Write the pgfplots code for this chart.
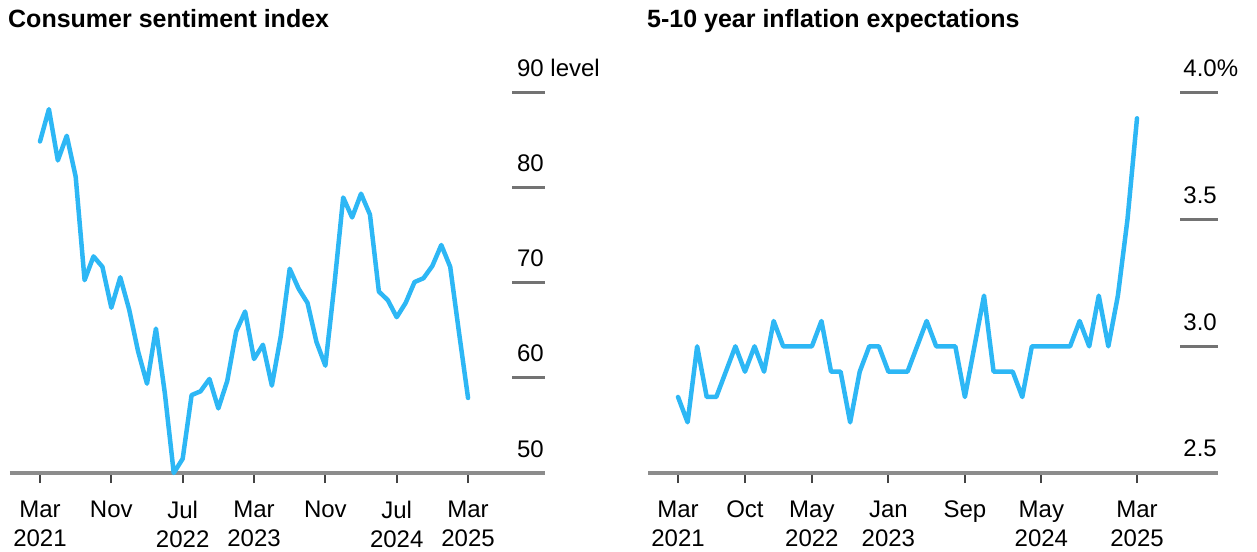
\documentclass[border=0pt]{standalone}
\usepackage{pgfplots}
\pgfplotsset{compat=1.18}
\usepackage{pgfplotstable}
\usepackage{fontspec}
\setmainfont{Liberation Sans}
\definecolor{linec}{HTML}{2DB7F5}
\definecolor{axisgray}{HTML}{8C8C8C}
\definecolor{tickc}{HTML}{444444}
\definecolor{gridc}{HTML}{737373}

\pgfplotstableread{
idx val
0 84.9
1 88.3
2 82.9
3 85.5
4 81.2
5 70.3
6 72.8
7 71.7
8 67.4
9 70.6
10 67.2
11 62.8
12 59.4
13 65.2
14 58.4
15 50.0
16 51.5
17 58.2
18 58.6
19 59.9
20 56.8
21 59.7
22 64.9
23 67.0
24 62.0
25 63.5
26 59.2
27 64.4
28 71.5
29 69.4
30 67.9
31 63.8
32 61.3
33 69.7
34 79.0
35 76.9
36 79.4
37 77.2
38 69.1
39 68.2
40 66.4
41 67.9
42 70.1
43 70.5
44 71.8
45 74.0
46 71.7
47 64.7
48 57.9
}\sentiment

\pgfplotstableread{
idx val
0 2.8
1 2.7
2 3.0
3 2.8
4 2.8
5 2.9
6 3.0
7 2.9
8 3.0
9 2.9
10 3.1
11 3.0
12 3.0
13 3.0
14 3.0
15 3.1
16 2.9
17 2.9
18 2.7
19 2.9
20 3.0
21 3.0
22 2.9
23 2.9
24 2.9
25 3.0
26 3.1
27 3.0
28 3.0
29 3.0
30 2.8
31 3.0
32 3.2
33 2.9
34 2.9
35 2.9
36 2.8
37 3.0
38 3.0
39 3.0
40 3.0
41 3.0
42 3.1
43 3.0
44 3.2
45 3.0
46 3.2
47 3.5
48 3.9
}\inflation

\begin{document}
\begin{tikzpicture}[x=1pt,y=1pt]
\useasboundingbox (0,0) rectangle (1257,551);
\pgfplotsset{
  panel/.style={
    scale only axis, clip=false,
    axis x line*=bottom, axis y line*=right,
    y axis line style={draw=none},
    x axis line style={draw=axisgray, line width=3.5pt},
    xtick style={draw=tickc, line width=2pt},
    ytick style={draw=none},
    tick align=outside, major tick length=10pt,
    minor tick num=0,
    tick label style={font=\fontsize{24}{29}\selectfont, text=black},
    xticklabel style={align=center, anchor=north, inner sep=0pt, yshift=-18pt},
    yticklabel style={anchor=base east, inner sep=0pt, xshift=-11pt, yshift=16pt},
    height=380pt,
  }
}
% Left panel
\node[anchor=base west, font=\bfseries\fontsize{25}{30}\selectfont, inner sep=0pt] at (8,523) {Consumer sentiment index};
\begin{axis}[panel,
  at={(10pt,78pt)}, anchor=south west,
  width=535pt,
  xmin=-3.364, xmax=56.63, ymin=50, ymax=90,
  xtick={0,8,16,24,32,40,48},
  xticklabels={Mar\\2021,Nov,Jul\\2022,Mar\\2023,Nov,Jul\\2024,Mar\\2025},
  ytick={50,60,70,80,90},
  yticklabels={50,60,70,80,90\rlap{ level}},
]
\foreach \yv in {60,70,80,90}{
  \edef\tmp{\noexpand\draw[gridc, line width=3pt] (axis cs:52.93,\yv) -- (axis cs:56.63,\yv);}
  \tmp
}
\addplot[linec, line width=4.5pt, line join=round, line cap=round] table[x=idx,y=val] {\sentiment};
\end{axis}
% Right panel
\node[anchor=base west, font=\bfseries\fontsize{25}{30}\selectfont, inner sep=0pt] at (647,523) {5-10 year inflation expectations};
\begin{axis}[panel,
  at={(648pt,78pt)}, anchor=south west,
  width=570pt,
  xmin=-3.14, xmax=56.47, ymin=2.5, ymax=4.0,
  xtick={0,7,14,22,30,38,48},
  xticklabels={Mar\\2021,Oct,May\\2022,Jan\\2023,Sep,May\\2024,Mar\\2025},
  ytick={2.5,3.0,3.5,4.0},
  yticklabels={2.5,3.0,3.5,4.0\rlap{\%}},
]
\foreach \yv in {3.0,3.5,4.0}{
  \edef\tmp{\noexpand\draw[gridc, line width=3pt] (axis cs:52.5,\yv) -- (axis cs:56.47,\yv);}
  \tmp
}
\addplot[linec, line width=4.5pt, line join=round, line cap=round] table[x=idx,y=val] {\inflation};
\end{axis}
\end{tikzpicture}
\end{document}
